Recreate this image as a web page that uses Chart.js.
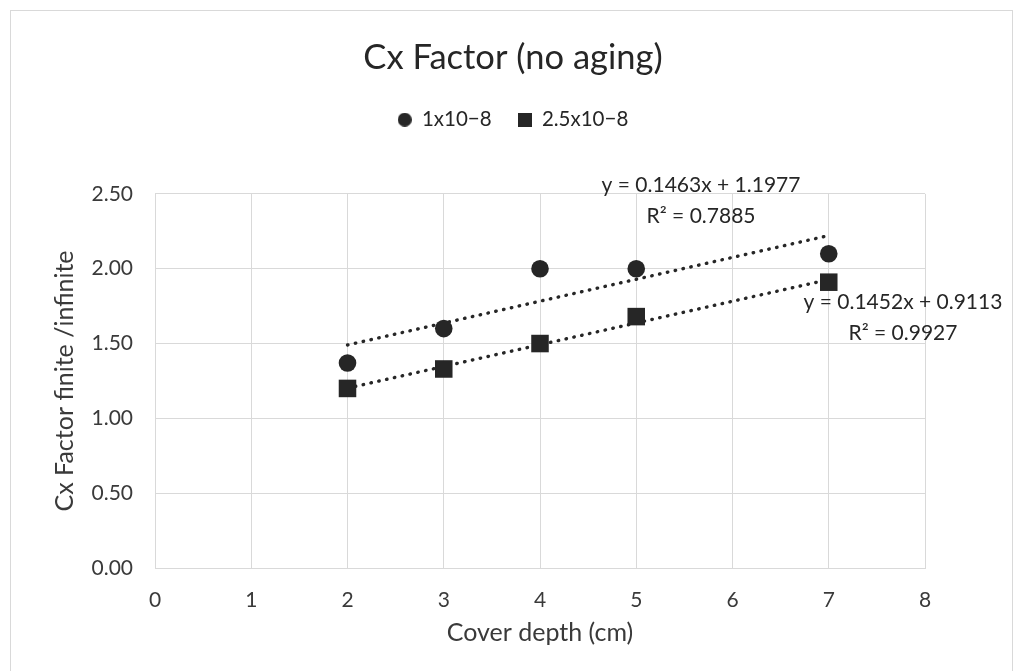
<!DOCTYPE html>
<html>
<head>
<meta charset="utf-8">
<title>Cx Factor (no aging)</title>
<script src="https://cdn.jsdelivr.net/npm/chart.js@4/dist/chart.umd.min.js"></script>
<style>
  html, body { margin: 0; padding: 0; background: #fff; }
  canvas { display: block; }
</style>
</head>
<body>
<canvas id="cxChart" width="1015" height="671"></canvas>
<script>
// data
const depths = [2, 3, 4, 5, 7];
const cxLow = [1.37, 1.60, 2.00, 2.00, 2.10];   // 1x10-8
const cxHigh = [1.20, 1.33, 1.50, 1.68, 1.91];  // 2.5x10-8
const seriesNames = ["1x10\u22128", "2.5x10\u22128"];

// linear trendlines as printed on the chart
const trendSlopes = [0.1463, 0.1452];
const trendIntercepts = [1.1977, 0.9113];
const trendR2 = [0.7885, 0.9927];

const xTicks = [0, 1, 2, 3, 4, 5, 6, 7, 8];
const yTicks = [0, 0.5, 1.0, 1.5, 2.0, 2.5];

const FONT = "Lato";
const DARK = "#262626";
const TEXT = "#3a3a3a";
const GRID = "#d9d9d9";

function trendPoints(i) {
  const x0 = Math.min(...depths), x1 = Math.max(...depths);
  return [
    { x: x0, y: trendSlopes[i] * x0 + trendIntercepts[i] },
    { x: x1, y: trendSlopes[i] * x1 + trendIntercepts[i] },
  ];
}

// small markers for the legend
function markCanvas(shape) {
  const c = document.createElement("canvas");
  c.width = 14;
  c.height = 14;
  const g = c.getContext("2d");
  g.fillStyle = DARK;
  if (shape === "circle") {
    g.beginPath();
    g.arc(7, 7, 7, 0, Math.PI * 2);
    g.fill();
  } else {
    g.fillRect(0, 0, 14, 14);
  }
  return c;
}
const legendMarks = [markCanvas("circle"), markCanvas("rect")];

const frame = {
  id: "frame",
  beforeInit(chart) {
    // extra room under the legend
    const fit = chart.legend.fit;
    chart.legend.fit = function () {
      fit.call(this);
      this.height += 54;
    };
  },
  beforeDraw(chart) {
    const { ctx } = chart;
    ctx.save();
    ctx.fillStyle = "#fff";
    ctx.fillRect(0, 0, chart.width, chart.height);
    ctx.strokeStyle = GRID;
    ctx.lineWidth = 1;
    ctx.strokeRect(10.5, 10.5, chart.width - 13, chart.height + 20);
    ctx.restore();
  },
};

const trendLabels = {
  id: "trendLabels",
  afterDatasetsDraw(chart, args, opts) {
    const { ctx } = chart;
    const { x, y } = chart.scales;
    ctx.save();
    ctx.font = "21px " + FONT;
    ctx.fillStyle = DARK;
    ctx.textAlign = "center";
    ctx.textBaseline = "middle";
    opts.anchors.forEach((a, i) => {
      const px = x.getPixelForValue(a.x);
      const py = y.getPixelForValue(a.y);
      ctx.fillText(`y = ${trendSlopes[i].toFixed(4)}x + ${trendIntercepts[i].toFixed(4)}`, px, py - 15.5);
      ctx.fillText(`R\u00B2 = ${trendR2[i].toFixed(4)}`, px, py + 15.5);
    });
    ctx.restore();
  },
};

const data = {
  datasets: [
    {
      label: seriesNames[0],
      data: depths.map((d, i) => ({ x: d, y: cxLow[i] })),
      showLine: false,
      pointStyle: "circle",
      pointRadius: 8.8,
      backgroundColor: DARK,
      borderColor: DARK,
      borderWidth: 0,
      order: 1,
    },
    {
      label: seriesNames[1],
      data: depths.map((d, i) => ({ x: d, y: cxHigh[i] })),
      showLine: false,
      pointStyle: "rect",
      pointRadius: 12.4,
      backgroundColor: DARK,
      borderColor: DARK,
      borderWidth: 0,
      order: 1,
    },
    {
      label: "trend1",
      data: trendPoints(0),
      showLine: true,
      pointRadius: 0,
      borderColor: DARK,
      borderWidth: 3.4,
      borderDash: [0.5, 7.5],
      borderCapStyle: "round",
      order: 2,
    },
    {
      label: "trend2",
      data: trendPoints(1),
      showLine: true,
      pointRadius: 0,
      borderColor: DARK,
      borderWidth: 3.4,
      borderDash: [0.5, 7.5],
      borderCapStyle: "round",
      order: 2,
    },
  ],
};

const config = {
  type: "scatter",
  data: data,
  options: {
    responsive: false,
    animation: false,
    layout: {
      padding: { top: 0, right: 0, bottom: 0, left: 11 },
    },
    scales: {
      x: {
        type: "linear",
        min: 0,
        max: 8,
        afterBuildTicks: (scale) => {
          scale.ticks = xTicks.map((v) => ({ value: v }));
        },
        afterFit: (scale) => {
          scale.height = 103;
        },
        ticks: {
          color: TEXT,
          font: { family: FONT, size: 21 },
          padding: 20,
          callback: (v) => String(v),
        },
        grid: { color: GRID, lineWidth: 1, drawTicks: false },
        border: { color: GRID, width: 1 },
        title: {
          display: true,
          text: "Cover depth (cm)",
          color: TEXT,
          font: { family: FONT, size: 25 },
          padding: { top: 0, bottom: 23 },
        },
      },
      y: {
        type: "linear",
        min: 0,
        max: 2.5,
        afterBuildTicks: (scale) => {
          scale.ticks = yTicks.map((v) => ({ value: v }));
        },
        afterFit: (scale) => {
          scale.width = 144;
        },
        ticks: {
          color: TEXT,
          font: { family: FONT, size: 21 },
          padding: 22,
          callback: (v) => Number(v).toFixed(2),
        },
        grid: { color: GRID, lineWidth: 1, drawTicks: false },
        border: { display: false },
        title: {
          display: true,
          text: "Cx Factor finite /infinite",
          color: TEXT,
          font: { family: FONT, size: 25 },
          padding: { top: 39, bottom: 0 },
        },
      },
      // empty right-hand axis, only to reserve the space right of the plot
      spacer: {
        type: "linear",
        position: "right",
        display: true,
        afterFit: (scale) => {
          scale.width = 90;
        },
        ticks: { display: false },
        grid: { display: false, drawTicks: false },
        border: { display: false },
      },
    },
    plugins: {
      title: {
        display: true,
        text: "Cx Factor (no aging)",
        color: DARK,
        font: { family: FONT, size: 34.5, weight: "normal" },
        padding: { top: 37, bottom: 5 },
      },
      legend: {
        display: true,
        labels: {
          usePointStyle: true,
          boxWidth: 14,
          boxHeight: 14,
          padding: 26,
          color: DARK,
          font: { family: FONT, size: 20.5 },
          filter: (item) => item.datasetIndex < 2,
          generateLabels: (chart) =>
            Chart.defaults.plugins.legend.labels
              .generateLabels(chart)
              .map((item) => ({ ...item, pointStyle: legendMarks[item.datasetIndex] })),
        },
      },
      tooltip: { enabled: false },
      trendLabels: {
        anchors: [
          { x: 5.673, y: 2.457 },
          { x: 7.771, y: 1.674 },
        ],
      },
    },
  },
  plugins: [frame, trendLabels],
};

const ctx = document.getElementById("cxChart").getContext("2d");
const cxChart = new Chart(ctx, config);
</script>
</body>
</html>
